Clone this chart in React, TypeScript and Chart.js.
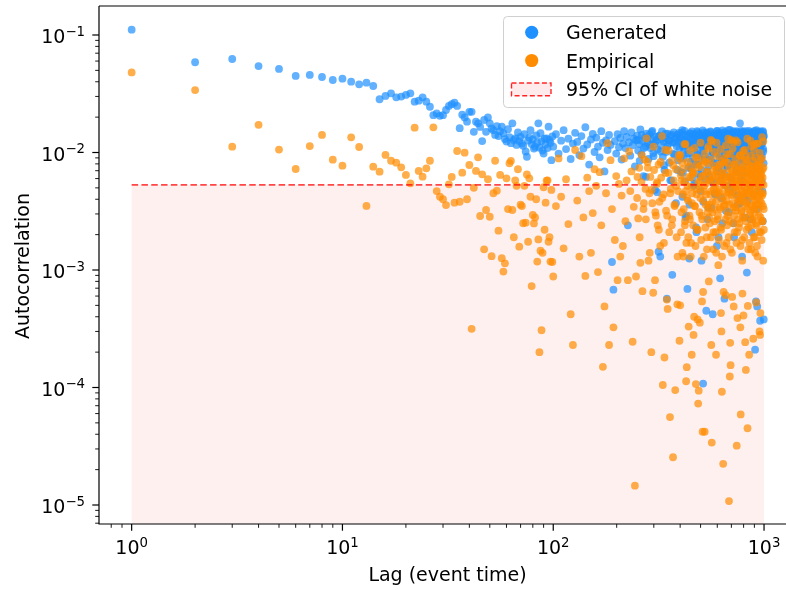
import React, { useEffect, useRef } from "react";
import { Chart, registerables } from "chart.js";

Chart.register(...registerables);

// ---------- data ----------
// Lags 1..99 (one value per lag)
const genEarly = [
  0.111, 0.0586, 0.0625, 0.0544, 0.0514, 0.0448, 0.0457, 0.0439, 0.0414, 0.0425,
  0.0401, 0.038, 0.0393, 0.0368, 0.0284, 0.0303, 0.0319, 0.0295, 0.0299, 0.0309,
  0.0319, 0.0271, 0.0276, 0.0295, 0.0271, 0.0245, 0.0208, 0.0215, 0.0205, 0.0208,
  0.023, 0.0249, 0.0258, 0.0265, 0.0249, 0.0161, 0.021, 0.0199, 0.0183, 0.0222,
  0.0222, 0.015, 0.0183, 0.0177, 0.0165, 0.0125, 0.0189, 0.015, 0.0199, 0.0177,
  0.016, 0.0155, 0.0141, 0.0168, 0.0138, 0.0152, 0.0166, 0.0146, 0.013, 0.0124,
  0.0158, 0.0135, 0.012, 0.0177, 0.0128, 0.0132, 0.0116, 0.0148, 0.0125, 0.0136,
  0.0119, 0.0114, 0.0143, 0.0102, 0.0092, 0.0126, 0.0134, 0.0155, 0.0118, 0.0129,
  0.0108, 0.0112, 0.014, 0.0121, 0.0177, 0.011, 0.0146, 0.0125, 0.0104, 0.0098,
  0.0131, 0.0117, 0.0132, 0.0109, 0.0166, 0.0128, 0.0121, 0.0086, 0.0137,
];
const empEarly = [
  0.048, 0.034, 0.0112, 0.0172, 0.0106, 0.00724, 0.01135, 0.0141, 0.00869, 0.00773,
  0.01346, 0.01114, 0.00351, 0.00757, 0.00687, 0.00953, 0.00851, 0.00819, 0.00748, 0.00644,
  0.00547, 0.01626, 0.00697, 0.00623, 0.00734, 0.00851, 0.01637, 0.0047, 0.0042, 0.004,
  0.00357, 0.00536, 0.0062, 0.00374, 0.0103, 0.00381, 0.00673, 0.00996, 0.004, 0.00783,
  0.000316, 0.005, 0.00697, 0.0091, 0.00288, 0.00652, 0.0015, 0.00324, 0.00592, 0.00284,
  0.00131, 0.0045, 0.00851, 0.00473, 0.00216, 0.00644, 0.00126, 0.00097, 0.00114, 0.00603,
  0.0033, 0.0081, 0.0085, 0.00324, 0.0019, 0.0058, 0.0052, 0.0072, 0.00158, 0.0036,
  0.0035, 0.0025, 0.0052, 0.00253, 0.0065, 0.00174, 0.00603, 0.0042, 0.00073, 0.00294,
  0.00249, 0.0028, 0.004, 0.00118, 0.00182, 0.0002, 0.00146, 0.000307, 0.0014, 0.00506,
  0.0022, 0.00374, 0.00575, 0.0058, 0.00174, 0.0019, 0.00118, 0.0048, 0.00117,
];

// Lags 100, 103, ..., 997
const genLate = [
  0.0112, 0.0143, 0.0098, 0.0126, 0.0155, 0.0107, 0.0131, 0.0088, 0.0119, 0.0147,
  0.0123, 0.0095, 0.0138, 0.0108, 0.0164, 0.0117, 0.0079, 0.0129, 0.0144, 0.0101,
  0.0134, 0.0112, 0.0091, 0.0152, 0.0121, 0.0069, 0.0127, 0.0105, 0.0141, 0.0116,
  0.00117, 0.00068, 0.0125, 0.0098, 0.0143, 0.0111, 0.0133, 0.0087, 0.0119, 0.0152,
  0.0109, 0.0136, 0.0024, 0.0122, 0.0094, 0.0148, 0.0115, 0.0131, 0.0076, 0.0127,
  0.0139, 0.0104, 0.0118, 0.0157, 0.0097, 0.0125, 0.0063, 0.0134, 0.0112, 0.0145,
  0.0121, 0.0088, 0.0142, 0.0109, 0.0131, 0.0153, 0.0099, 0.0117, 0.0048, 0.0136,
  0.0128, 0.0106, 0.00143, 0.0139, 0.0013, 0.0115, 0.0151, 0.0092, 0.0124, 0.0071,
  0.0133, 0.0101, 0.00057, 0.0145, 0.0118, 0.0082, 0.0127, 0.0139, 0.0058, 0.00091,
  0.0122, 0.0148, 0.0096, 0.0131, 0.0037, 0.0113, 0.0142, 0.0086, 0.0125, 0.0108,
  0.0136, 0.0091, 0.0119, 0.0155, 0.0067, 0.0128, 0.0104, 0.0141, 0.0028, 0.0115,
  0.0124, 0.00069, 0.0137, 0.0098, 0.00125, 0.0146, 0.0112, 0.0073, 0.0131, 0.0089,
  0.0118, 0.0143, 0.0054, 0.0127, 0.0099, 0.0134, 0.0021, 0.0152, 0.0109, 0.0079,
  0.0129, 0.0095, 0.0141, 0.0062, 0.0117, 0.0012, 0.0136, 0.0103, 0.000108, 0.0148,
  0.0114, 0.0132, 0.0087, 0.0125, 0.00045, 0.0145, 0.0069, 0.0121, 0.0034, 0.0138,
  0.0126, 0.0093, 0.0149, 0.0113, 0.0058, 0.0131, 0.0102, 0.00042, 0.0139, 0.0081,
  0.0135, 0.0117, 0.0044, 0.0142, 0.0098, 0.0124, 0.0016, 0.0153, 0.0108, 0.0074,
  0.0121, 0.0146, 0.0091, 0.00085, 0.0133, 0.0112, 0.0065, 0.0139, 0.0025, 0.0127,
  0.0118, 0.0137, 0.0084, 0.00057, 0.0149, 0.0106, 0.0129, 0.0052, 0.0141, 0.0095,
  0.0132, 0.0077, 0.0144, 0.0113, 0.0031, 0.0125, 0.0156, 0.0097, 0.0138, 0.0061,
  0.0123, 0.0141, 0.0089, 0.0131, 0.0046, 0.0152, 0.0108, 0.0019, 0.0135, 0.0116,
  0.0143, 0.0099, 0.0127, 0.0071, 0.0138, 0.0113, 0.0036, 0.0149, 0.0104, 0.0131,
  0.0126, 0.0094, 0.0145, 0.0177, 0.0111, 0.0058, 0.0134, 0.0087, 0.0142, 0.0013,
  0.0137, 0.0118, 0.0076, 0.0151, 0.0103, 0.0129, 0.0042, 0.0141, 0.0095, 0.0123,
  0.0131, 0.0108, 0.0146, 0.00095, 0.0122, 0.0084, 0.0139, 0.0067, 0.0117, 0.0153,
  0.0114, 0.0136, 0.0091, 0.0128, 0.0027, 0.0147, 0.0105, 0.0133, 0.0079, 0.0121,
  0.0138, 0.0097, 0.0125, 0.0149, 0.0062, 0.0116, 0.0134, 0.0088, 0.0142, 0.00021,
  0.0127, 0.0109, 0.00054, 0.0144, 0.0083, 0.0131, 0.00049, 0.0119, 0.0151, 0.0072,
  0.0135, 0.0101, 0.0147, 0.0056, 0.0124, 0.0092, 0.00037, 0.0139, 0.0113, 0.0128,
  0.0141, 0.0118, 0.0094, 0.0133, 0.0047, 0.0126, 0.0152, 0.0107, 0.0136, 0.00038,
];
const empLate = [
  0.00088, 0.0035, 0.0089, 0.0042, 0.00153, 0.00592, 0.00246, 0.00042, 0.00023, 0.0105,
  0.0039, 0.0013, 0.0093, 0.0028, 0.00089, 0.0061, 0.0047, 0.0014, 0.00305, 0.0072,
  0.0052, 0.00096, 0.0068, 0.0024, 0.00015, 0.00049, 0.0045, 0.012, 0.00023, 0.0086,
  0.0033, 0.000325, 0.0018, 0.0063, 0.00082, 0.0054, 0.0013, 0.0043, 0.0016, 0.0089,
  0.0026, 0.0058, 0.00082, 0.0102, 0.0047, 0.0069, 0.000245, 0.00345, 0.0000146, 0.00088,
  0.0041, 0.00275, 0.0074, 0.00115, 0.0056, 0.00066, 0.0033, 0.0087, 0.0049, 0.0132,
  0.0083, 0.0012, 0.0045, 0.0062, 0.0002, 0.0037, 0.00064, 0.0071, 0.00082, 0.0029,
  0.0054, 0.0024, 0.0079, 0.0038, 0.0016, 0.0061, 0.0138, 0.000105, 0.0044, 0.00018,
  0.0105, 0.0032, 0.00056, 0.000466, 0.0067, 0.0021, 0.000056, 0.0049, 0.0085, 0.0027,
  0.0000255, 0.0058, 0.0036, 0.000095, 0.0072, 0.0019, 0.00051, 0.0047, 0.0095, 0.00025,
  0.0005, 0.0064, 0.0031, 0.0082, 0.0044, 0.0013, 0.0056, 0.0024, 0.0118, 0.000113,
  0.000149, 0.0052, 0.0039, 0.00033, 0.0076, 0.0027, 0.0061, 0.0017, 0.00019, 0.0045,
  0.0068, 0.00028, 0.0004, 0.0035, 0.0091, 0.000107, 0.0049, 0.0022, 0.00038, 0.000073,
  0.000094, 0.0057, 0.000356, 0.0041, 0.0078, 0.0029, 0.00054, 0.000042, 0.00065, 0.0063,
  0.0047, 0.000042, 0.0084, 0.0036, 0.0055, 0.0019, 0.0069, 0.0031, 0.0108, 0.0008,
  0.0058, 0.0025, 0.0044, 0.0128, 0.00023, 0.000034, 0.0038, 0.0062, 0.0015, 0.0049,
  0.0071, 0.0033, 0.0052, 0.0021, 0.00019, 0.0121, 0.0043, 0.0027, 0.0064, 0.0011,
  0.0046, 0.0079, 0.0034, 0.0057, 0.0023, 0.00043, 0.0003, 0.000092, 0.0066, 0.0039,
  0.0000224, 0.00065, 0.0053, 0.0082, 0.0036, 0.0061, 0.00061, 0.0045, 0.0017, 0.0097,
  0.0059, 0.0031, 0.0131, 0.0048, 0.0000108, 0.0026, 0.000124, 0.00024, 0.000155, 0.0063,
  0.0044, 0.0069, 0.00059, 0.0037, 0.0123, 0.0055, 0.00049, 0.0029, 0.0078, 0.0051,
  0.0062, 0.0034, 0.0127, 0.0046, 0.000032, 0.0021, 0.00039, 0.0058, 0.0071, 0.0039,
  0.0053, 0.0025, 0.0094, 0.0043, 0.000325, 0.000059, 0.0066, 0.0032, 0.0048, 0.0018,
  0.00063, 0.0075, 0.0041, 0.00041, 0.0056, 0.0028, 0.0067, 0.0105, 0.000243, 0.0045,
  0.000141, 0.0061, 0.0037, 0.0082, 0.0049, 0.000045, 0.000495, 0.0054, 0.0023, 0.0072,
  0.00019, 0.0047, 0.0064, 0.0031, 0.0126, 0.0042, 0.0015, 0.0058, 0.0035, 0.0076,
  0.0051, 0.0027, 0.0068, 0.00026, 0.0044, 0.0118, 0.0033, 0.0061, 0.0019, 0.0055,
  0.0073, 0.0039, 0.0057, 0.00053, 0.0024, 0.0119, 0.0046, 0.0013, 0.0063, 0.0036,
  0.0052, 0.0079, 0.0029, 0.0066, 0.0003, 0.0043, 0.00028, 0.00043, 0.0058, 0.0021,
  0.0069, 0.0037, 0.0054, 0.0135, 0.0026, 0.0061, 0.0045, 0.0012, 0.0075, 0.0033,
];

// Lags 251, 257, ..., 395
const genMid = [
  0.0128, 0.0085, 0.0141, 0.0109, 0.0062, 0.0135, 0.0117, 0.0149, 0.0093, 0.0124,
  0.0046, 0.0138, 0.0102, 0.0131, 0.0078, 0.0145, 0.0113, 0.0127, 0.0058, 0.0142,
  0.0098, 0.0121, 0.0136, 0.0071, 0.0147,
];
const empMid = [
  0.0062, 0.0019, 0.0095, 0.0037, 0.0027, 0.0074, 0.0014, 0.0048, 0.0112, 0.0031,
  0.0056, 0.0022, 0.0083, 0.0041, 0.0017, 0.0067, 0.0029, 0.0104, 0.0045, 0.0024,
  0.0078, 0.0035, 0.0052, 0.0013, 0.0089,
];

// Lags 401, 404, ..., 998
const genDense = [
  0.0131, 0.0068, 0.0147, 0.0042, 0.0112, 0.0089, 0.0153, 0.0057, 0.0124, 0.0029,
  0.0098, 0.0139, 0.0074, 0.0121, 0.0036, 0.0145, 0.0083, 0.0116, 0.0151, 0.0061,
  0.0127, 0.0052, 0.0108, 0.0142, 0.0079, 0.0023, 0.0134, 0.0095, 0.0149, 0.0066,
  0.0085, 0.0144, 0.0118, 0.0047, 0.0138, 0.0071, 0.0126, 0.0154, 0.0038, 0.0103,
  0.0141, 0.0092, 0.0059, 0.0132, 0.0115, 0.0148, 0.0027, 0.0122, 0.0077, 0.0136,
  0.0063, 0.0128, 0.0151, 0.0087, 0.0034, 0.0119, 0.0143, 0.0101, 0.0055, 0.0137,
  0.0116, 0.0045, 0.0139, 0.0124, 0.0081, 0.0152, 0.0069, 0.0109, 0.0146, 0.0019,
  0.0135, 0.0097, 0.0058, 0.0145, 0.0123, 0.0041, 0.0131, 0.0088, 0.0154, 0.0073,
  0.0104, 0.0148, 0.0129, 0.0065, 0.0113, 0.0139, 0.0032, 0.0121, 0.0094, 0.0143,
  0.0076, 0.0133, 0.0155, 0.0101, 0.0049, 0.0127, 0.0146, 0.0084, 0.0118, 0.0061,
  0.0142, 0.0054, 0.0119, 0.0136, 0.0091, 0.0025, 0.0149, 0.0107, 0.0131, 0.0078,
  0.0093, 0.0147, 0.0068, 0.0128, 0.0152, 0.0115, 0.0043, 0.0137, 0.0082, 0.0124,
  0.0137, 0.0106, 0.0144, 0.0037, 0.0121, 0.0089, 0.0153, 0.0062, 0.0129, 0.0148,
  0.0071, 0.0125, 0.0098, 0.0146, 0.0056, 0.0134, 0.0117, 0.0028, 0.0141, 0.0109,
  0.0152, 0.0083, 0.0131, 0.0114, 0.0142, 0.0067, 0.0039, 0.0126, 0.0095, 0.0138,
  0.0118, 0.0144, 0.0052, 0.0123, 0.0086, 0.0149, 0.0132, 0.0105, 0.0021, 0.0135,
  0.0064, 0.0129, 0.0147, 0.0096, 0.0138, 0.0044, 0.0115, 0.0153, 0.0079, 0.0126,
  0.0141, 0.0073, 0.0108, 0.0155, 0.0033, 0.0122, 0.0137, 0.0091, 0.0146, 0.0058,
  0.0099, 0.0136, 0.0127, 0.0048, 0.0144, 0.0113, 0.0071, 0.0132, 0.0151, 0.0087,
  0.0125, 0.0057, 0.0142, 0.0119, 0.0134, 0.0026, 0.0148, 0.0102, 0.0081, 0.0139,
];
const empDense = [
  0.0095, 0.0021, 0.0058, 0.0014, 0.0072, 0.0033, 0.0118, 0.0026, 0.0047, 0.0017,
  0.0041, 0.0083, 0.0019, 0.0062, 0.0029, 0.0104, 0.0013, 0.0051, 0.0037, 0.0069,
  0.0024, 0.0066, 0.0109, 0.0035, 0.0016, 0.0079, 0.0044, 0.0091, 0.0022, 0.0055,
  0.0075, 0.0031, 0.0049, 0.0121, 0.0018, 0.0063, 0.0027, 0.0086, 0.0039, 0.0013,
  0.0052, 0.0098, 0.0023, 0.0044, 0.0068, 0.0015, 0.0081, 0.0034, 0.0112, 0.0028,
  0.0036, 0.0059, 0.0087, 0.0019, 0.0047, 0.0125, 0.0031, 0.0064, 0.0021, 0.0077,
  0.0101, 0.0026, 0.0055, 0.0038, 0.0014, 0.0071, 0.0045, 0.0093, 0.0029, 0.0061,
  0.0018, 0.0048, 0.0076, 0.0033, 0.0107, 0.0022, 0.0057, 0.0013, 0.0084, 0.0042,
  0.0067, 0.0035, 0.0016, 0.0089, 0.0052, 0.0027, 0.0115, 0.0039, 0.0062, 0.0024,
  0.0029, 0.0082, 0.0046, 0.0019, 0.0073, 0.0036, 0.0097, 0.0015, 0.0054, 0.0128,
  0.0043, 0.0014, 0.0066, 0.0108, 0.0025, 0.0058, 0.0034, 0.0079, 0.0021, 0.0049,
  0.0088, 0.0032, 0.0053, 0.0017, 0.0069, 0.0041, 0.0122, 0.0027, 0.0063, 0.0037,
  0.0023, 0.0074, 0.0039, 0.0095, 0.0016, 0.0056, 0.0031, 0.0085, 0.0047, 0.0012,
  0.0061, 0.0028, 0.0103, 0.0044, 0.0072, 0.0019, 0.0051, 0.0035, 0.0092, 0.0026,
  0.0038, 0.0087, 0.0022, 0.0058, 0.0131, 0.0033, 0.0067, 0.0015, 0.0045, 0.0078,
  0.0054, 0.0017, 0.0071, 0.0029, 0.0094, 0.0048, 0.0024, 0.0113, 0.0036, 0.0065,
  0.0027, 0.0063, 0.0042, 0.0084, 0.0019, 0.0106, 0.0055, 0.0031, 0.0073, 0.0014,
  0.0091, 0.0036, 0.0025, 0.0068, 0.0047, 0.0016, 0.0079, 0.0041, 0.0119, 0.0057,
  0.0033, 0.0076, 0.0052, 0.0021, 0.0099, 0.0039, 0.0062, 0.0028, 0.0086, 0.0045,
  0.0064, 0.0018, 0.0089, 0.0043, 0.0026, 0.0072, 0.0035, 0.0124, 0.0053, 0.0022,
];

const earlyLags: number[] = [];
for (let l = 1; l <= 99; l++) earlyLags.push(l);
const lateLags: number[] = [];
for (let l = 100; l <= 997; l += 3) lateLags.push(l);
const midLags: number[] = [];
for (let l = 251; l <= 395; l += 6) midLags.push(l);
const denseLags: number[] = [];
for (let l = 401; l <= 998; l += 3) denseLags.push(l);

const ciLevel = 0.0053; // 95% CI of white noise
const ciLagStart = 1;
const ciLagEnd = 1000;

const xMajorExps = [0, 1, 2, 3];
const yMajorExps = [-5, -4, -3, -2, -1];

const seriesLabels = ["Generated", "Empirical", "95% CI of white noise"];
const xTitle = "Lag (event time)";
const yTitle = "Autocorrelation";

// ---------- layout ----------
const W = 786;
const H = 590;
const X_MIN = Math.pow(10, -0.1467);
const X_MAX = Math.pow(10, 3.1042);
const Y_MIN = Math.pow(10, -5.1617);
const Y_MAX = Math.pow(10, -0.7532);
const FONT = '"DejaVu Sans", "Liberation Sans", sans-serif';
const BLUE = "#1E90FF";
const ORANGE = "#FF8C00";
const R = 3.9;

function toPoints(lags: number[], vals: number[]) {
  const out: { x: number; y: number }[] = [];
  for (let i = 0; i < Math.min(lags.length, vals.length); i++) out.push({ x: lags[i], y: vals[i] });
  return out;
}

function supText(e: number) {
  return e < 0 ? "\u2212" + String(-e) : String(e);
}

const decorPlugin = {
  id: "decor",
  beforeDatasetsDraw(chart: any) {
    const { ctx, chartArea: a, scales } = chart;
    const x0 = scales.x.getPixelForValue(ciLagStart);
    const x1 = scales.x.getPixelForValue(ciLagEnd);
    const yc = scales.y.getPixelForValue(ciLevel);
    ctx.save();
    ctx.fillStyle = "rgba(255,0,0,0.06)";
    ctx.fillRect(x0, yc, x1 - x0, a.bottom - yc);
    ctx.restore();
  },
  afterDatasetsDraw(chart: any) {
    const { ctx, chartArea: a, scales } = chart;
    const sx = scales.x;
    const sy = scales.y;
    ctx.save();
    const x0 = sx.getPixelForValue(ciLagStart);
    const x1 = sx.getPixelForValue(ciLagEnd);
    const yc = sy.getPixelForValue(ciLevel);
    ctx.strokeStyle = "rgba(255,0,0,0.72)";
    ctx.lineWidth = 1.7;
    ctx.setLineDash([6.5, 3.3]);
    ctx.beginPath();
    ctx.moveTo(x0, yc);
    ctx.lineTo(x1, yc);
    ctx.stroke();
    ctx.setLineDash([]);

    ctx.strokeStyle = "#000";
    ctx.lineWidth = 1.2;
    ctx.beginPath();
    ctx.moveTo(a.left, a.top);
    ctx.lineTo(a.right, a.top);
    ctx.moveTo(a.left, a.top);
    ctx.lineTo(a.left, a.bottom);
    ctx.lineTo(a.right, a.bottom);
    ctx.stroke();

    const drawXTick = (v: number, len: number, lw: number) => {
      const px = sx.getPixelForValue(v);
      ctx.lineWidth = lw;
      ctx.beginPath();
      ctx.moveTo(px, a.bottom);
      ctx.lineTo(px, a.bottom + len);
      ctx.stroke();
    };
    const drawYTick = (v: number, len: number, lw: number) => {
      const py = sy.getPixelForValue(v);
      ctx.lineWidth = lw;
      ctx.beginPath();
      ctx.moveTo(a.left, py);
      ctx.lineTo(a.left - len, py);
      ctx.stroke();
    };
    for (let e = -1; e <= 3; e++) {
      for (let m = 2; m <= 9; m++) {
        const v = m * Math.pow(10, e);
        if (v >= X_MIN && v <= X_MAX) drawXTick(v, 3.8, 0.9);
      }
    }
    for (let e = -6; e <= -1; e++) {
      for (let m = 2; m <= 9; m++) {
        const v = m * Math.pow(10, e);
        if (v >= Y_MIN && v <= Y_MAX) drawYTick(v, 3.8, 0.9);
      }
    }
    ctx.fillStyle = "#000";
    ctx.textBaseline = "alphabetic";
    const mainFont = "19px " + FONT;
    const supFont = "13.3px " + FONT;
    for (const e of xMajorExps) {
      const v = Math.pow(10, e);
      drawXTick(v, 6.7, 1.2);
      const px = sx.getPixelForValue(v);
      ctx.font = mainFont;
      const wm = ctx.measureText("10").width;
      ctx.font = supFont;
      const ws = ctx.measureText(supText(e)).width;
      const start = px - (wm + ws) / 2;
      const base = 554;
      ctx.textAlign = "left";
      ctx.font = mainFont;
      ctx.fillText("10", start, base);
      ctx.font = supFont;
      ctx.fillText(supText(e), start + wm, base - 7.5);
    }
    for (const e of yMajorExps) {
      const v = Math.pow(10, e);
      drawYTick(v, 6.7, 1.2);
      const py = sy.getPixelForValue(v);
      ctx.font = supFont;
      const ws = ctx.measureText(supText(e)).width;
      const right = 85;
      const base = py + 8.3;
      ctx.textAlign = "left";
      ctx.fillText(supText(e), right - ws, base - 7.5);
      ctx.font = mainFont;
      ctx.textAlign = "right";
      ctx.fillText("10", right - ws, base);
    }

    ctx.font = mainFont;
    ctx.textAlign = "center";
    ctx.fillText(xTitle, 447.5, 580.5);
    ctx.save();
    ctx.translate(28.5, 266);
    ctx.rotate(-Math.PI / 2);
    ctx.fillText(yTitle, 0, 0);
    ctx.restore();

    // legend
    const lx = 503.5, ly = 16.5, lw = 281, lh = 91, r = 4;
    ctx.beginPath();
    ctx.moveTo(lx + r, ly);
    ctx.lineTo(lx + lw - r, ly);
    ctx.arcTo(lx + lw, ly, lx + lw, ly + r, r);
    ctx.lineTo(lx + lw, ly + lh - r);
    ctx.arcTo(lx + lw, ly + lh, lx + lw - r, ly + lh, r);
    ctx.lineTo(lx + r, ly + lh);
    ctx.arcTo(lx, ly + lh, lx, ly + lh - r, r);
    ctx.lineTo(lx, ly + r);
    ctx.arcTo(lx, ly, lx + r, ly, r);
    ctx.closePath();
    ctx.fillStyle = "rgba(255,255,255,0.8)";
    ctx.fill();
    ctx.strokeStyle = "#d0d0d0";
    ctx.lineWidth = 1;
    ctx.stroke();

    ctx.fillStyle = BLUE;
    ctx.beginPath();
    ctx.arc(531.7, 32.3, 6.6, 0, Math.PI * 2);
    ctx.fill();
    ctx.fillStyle = ORANGE;
    ctx.beginPath();
    ctx.arc(531.7, 60.5, 6.6, 0, Math.PI * 2);
    ctx.fill();
    ctx.fillStyle = "rgba(255,0,0,0.08)";
    ctx.fillRect(511.5, 83, 39.5, 12.7);
    ctx.strokeStyle = "rgba(255,0,0,0.85)";
    ctx.lineWidth = 1.4;
    ctx.setLineDash([5, 2.6]);
    ctx.strokeRect(511.5, 83, 39.5, 12.7);
    ctx.setLineDash([]);

    ctx.fillStyle = "#000";
    ctx.font = mainFont;
    ctx.textAlign = "left";
    ctx.fillText(seriesLabels[0], 566, 39.3);
    ctx.fillText(seriesLabels[1], 566, 67.6);
    ctx.fillText(seriesLabels[2], 566, 95.8);
    ctx.restore();
  },
};

export default function App() {
  const ref = useRef<HTMLCanvasElement | null>(null);
  useEffect(() => {
    if (!ref.current) return;
    const genPts = toPoints(earlyLags, genEarly)
      .concat(toPoints(lateLags, genLate))
      .concat(toPoints(midLags, genMid))
      .concat(toPoints(denseLags, genDense))
      .sort((p, q) => p.x - q.x);
    const empPts = toPoints(earlyLags, empEarly)
      .concat(toPoints(lateLags, empLate))
      .concat(toPoints(midLags, empMid))
      .concat(toPoints(denseLags, empDense))
      .sort((p, q) => p.x - q.x);
    const chart = new Chart(ref.current, {
      type: "scatter",
      data: {
        datasets: [
          {
            label: seriesLabels[1],
            data: empPts,
            backgroundColor: "rgba(255,140,0,0.7)",
            pointRadius: R,
            pointBorderWidth: 0,
            borderWidth: 0,
            pointHoverRadius: R,
            order: 0,
          },
          {
            label: seriesLabels[0],
            data: genPts,
            backgroundColor: "rgba(30,144,255,0.7)",
            pointRadius: R,
            pointBorderWidth: 0,
            borderWidth: 0,
            pointHoverRadius: R,
            order: 1,
          },
        ],
      },
      options: {
        responsive: false,
        maintainAspectRatio: false,
        animation: false,
        devicePixelRatio: 1,
        events: [],
        layout: { autoPadding: false, padding: { top: 6, left: 0, right: 0, bottom: 0 } },
        plugins: { legend: { display: false }, tooltip: { enabled: false } },
        scales: {
          x: {
            type: "logarithmic",
            min: X_MIN,
            max: X_MAX,
            ticks: { display: false },
            grid: { display: false },
            border: { display: false },
            afterFit: (s: any) => {
              s.height = 66;
            },
          },
          y: {
            type: "logarithmic",
            min: Y_MIN,
            max: Y_MAX,
            ticks: { display: false },
            grid: { display: false },
            border: { display: false },
            afterFit: (s: any) => {
              s.width = 99;
            },
          },
        },
      } as any,
      plugins: [decorPlugin],
    });
    return () => chart.destroy();
  }, []);
  return (
    <div style={{ position: "absolute", left: 0, top: 0, width: W, height: H, background: "#fff" }}>
      <canvas ref={ref} width={W} height={H} style={{ display: "block", width: W, height: H }} />
    </div>
  );
}
